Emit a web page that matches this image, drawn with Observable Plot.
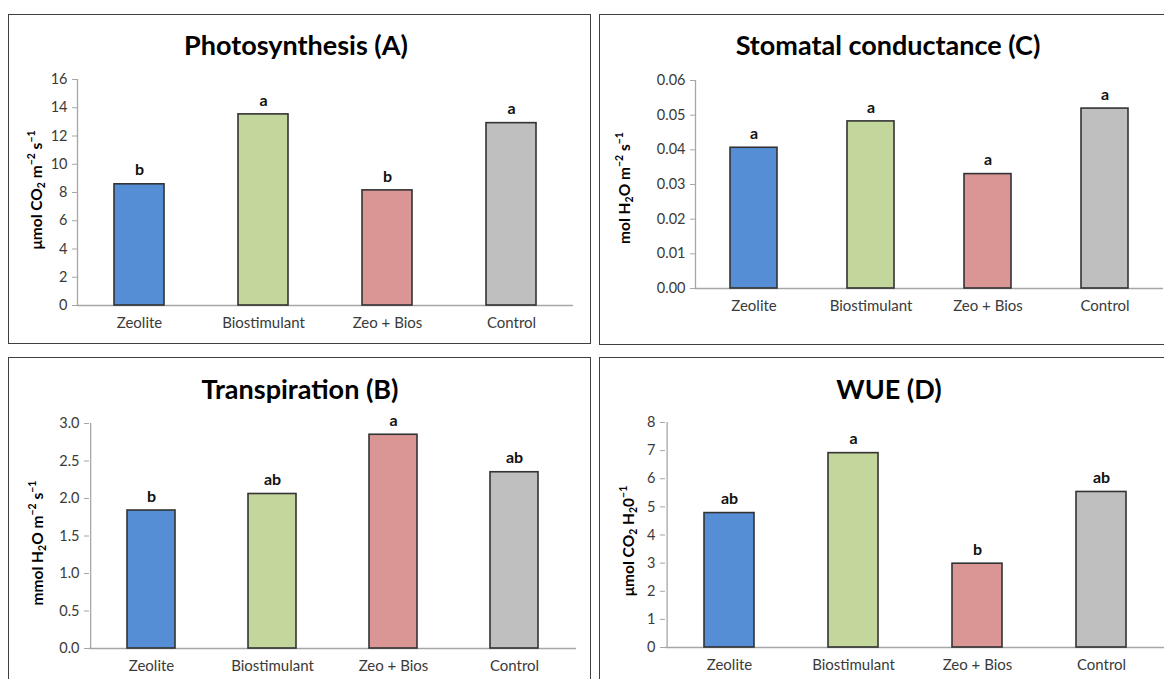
<!DOCTYPE html>
<html>
<head>
<meta charset="utf-8">
<script src="https://cdn.jsdelivr.net/npm/d3@7"></script>
<script src="https://cdn.jsdelivr.net/npm/@observablehq/plot@0.6"></script>
<style>
  html, body { margin: 0; padding: 0; background: #fff; }
  body { width: 1164px; height: 679px; position: relative; overflow: hidden; font-family: Lato, "Open Sans", sans-serif; }
  .frame { position: absolute; border: 1.5px solid #404040; box-sizing: border-box; }
  .title { position: absolute; font-weight: bold; font-size: 27px; color: #000; white-space: nowrap; transform: translate(-50%, -50%); }
  .ylabel { position: absolute; font-weight: bold; font-size: 15.5px; color: #000; white-space: nowrap; transform: translate(-50%, -50%) rotate(-90deg); }
  .ylabel sub, .ylabel sup { font-size: 10.5px; }
  .ylabel sub { vertical-align: -3px; }
  .ylabel sup { vertical-align: 7px; }
  .plot { position: absolute; }
</style>
</head>
<body>
<div id="root"></div>
<script>
// ---- data ----
const categories = ["Zeolite", "Biostimulant", "Zeo + Bios", "Control"];
const barColors = ["#558ED5", "#C3D69B", "#D99694", "#BFBFBF"];

const photosynthesis = [8.58, 13.53, 8.15, 12.91];
const photosynthesisLetters = ["b", "a", "b", "a"];
const photosynthesisTicks = [0, 2, 4, 6, 8, 10, 12, 14, 16];

const conductance = [0.0406, 0.0482, 0.0330, 0.0519];
const conductanceLetters = ["a", "a", "a", "a"];
const conductanceTicks = [0, 0.01, 0.02, 0.03, 0.04, 0.05, 0.06];

const transpiration = [1.84, 2.06, 2.85, 2.35];
const transpirationLetters = ["b", "ab", "a", "ab"];
const transpirationTicks = [0, 0.5, 1.0, 1.5, 2.0, 2.5, 3.0];

const wue = [4.78, 6.91, 2.98, 5.53];
const wueLetters = ["ab", "a", "b", "ab"];
const wueTicks = [0, 1, 2, 3, 4, 5, 6, 7, 8];

// ---- layout (page pixels) ----
const panels = [
  {
    title: "Photosynthesis (A)", titleX: 296, titleY: 44,
    ylabel: "μmol CO<sub>2</sub> m<sup>−2</sup> s<sup>−1</sup>", ylabelX: 36, ylabelY: 190,
    frame: {left: 8, top: 14, width: 583, height: 330},
    svg: {left: 8, top: 60, width: 580, height: 282, mL: 69, mR: 15, mT: 19, mB: 37},
    values: photosynthesis, letters: photosynthesisLetters, ticks: photosynthesisTicks, fmt: d3.format("d")
  },
  {
    title: "Stomatal conductance (C)", titleX: 888, titleY: 44,
    ylabel: "mol H<sub>2</sub>O m<sup>−2</sup> s<sup>−1</sup>", ylabelX: 624, ylabelY: 188,
    frame: {left: 599, top: 14, width: 590, height: 331},
    svg: {left: 599, top: 60, width: 565, height: 262, mL: 96, mR: 1, mT: 20, mB: 34},
    values: conductance, letters: conductanceLetters, ticks: conductanceTicks, fmt: d3.format(".2f")
  },
  {
    title: "Transpiration (B)", titleX: 300, titleY: 388,
    ylabel: "mmol H<sub>2</sub>O m<sup>−2</sup> s<sup>−1</sup>", ylabelX: 37, ylabelY: 543,
    frame: {left: 8, top: 357, width: 583, height: 340},
    svg: {left: 9, top: 400, width: 581, height: 279, mL: 80, mR: 14, mT: 23, mB: 31},
    values: transpiration, letters: transpirationLetters, ticks: transpirationTicks, fmt: d3.format(".1f")
  },
  {
    title: "WUE (D)", titleX: 889, titleY: 388,
    ylabel: "μmol CO<sub>2</sub> H<sub>2</sub>0<sup>−1</sup>", ylabelX: 628, ylabelY: 541,
    frame: {left: 599, top: 357, width: 590, height: 340},
    svg: {left: 599, top: 400, width: 565, height: 279, mL: 66, mR: 0, mT: 22, mB: 32},
    values: wue, letters: wueLetters, ticks: wueTicks, fmt: d3.format("d")
  }
];

const root = document.getElementById("root");

for (const p of panels) {
  const fr = document.createElement("div");
  fr.className = "frame";
  Object.assign(fr.style, {left: p.frame.left + "px", top: p.frame.top + "px", width: p.frame.width + "px", height: p.frame.height + "px"});
  root.appendChild(fr);

  const t = document.createElement("div");
  t.className = "title";
  t.textContent = p.title;
  Object.assign(t.style, {left: p.titleX + "px", top: p.titleY + "px"});
  root.appendChild(t);

  const yl = document.createElement("div");
  yl.className = "ylabel";
  yl.innerHTML = p.ylabel;
  Object.assign(yl.style, {left: p.ylabelX + "px", top: p.ylabelY + "px"});
  root.appendChild(yl);

  const data = categories.map((c, i) => ({cat: c, v: p.values[i], letter: p.letters[i], color: barColors[i]}));
  const s = p.svg;
  const ymax = p.ticks[p.ticks.length - 1];
  const step = (s.width - s.mL - s.mR) / categories.length;

  const chart = Plot.plot({
    width: s.width,
    height: s.height,
    marginLeft: s.mL,
    marginRight: s.mR,
    marginTop: s.mT,
    marginBottom: s.mB,
    style: {fontFamily: "Lato, 'Open Sans', sans-serif", fontSize: "14px", background: "transparent", color: "#404040"},
    x: {domain: categories, paddingInner: 0.6, paddingOuter: 0.3, label: null, axis: null},
    y: {domain: [0, ymax], label: null, axis: null},
    color: {type: "identity"},
    marks: [
      Plot.ruleY([0], {stroke: "#A6A6A6", strokeWidth: 1.3}),
      Plot.ruleX([categories[0]], {y1: 0, y2: ymax, dx: -step / 2, stroke: "#A6A6A6", strokeWidth: 1.3}),
      Plot.axisY({ticks: p.ticks, tickFormat: p.fmt, tickSize: 5, tickPadding: 5, stroke: "#A6A6A6", fill: "#3a3a3a", label: null, fontSize: 14.5}),
      Plot.axisX({tickSize: 0, tickPadding: 12, fill: "#3a3a3a", label: null, fontSize: 15}),
      Plot.barY(data, {x: "cat", y: "v", fill: "color", stroke: "#333", strokeWidth: 1.6}),
      Plot.text(data, {x: "cat", y: "v", text: "letter", dy: -14, fontWeight: "bold", fontSize: 16, fill: "#111"})
    ]
  });
  chart.classList.add("plot");
  Object.assign(chart.style, {left: s.left + "px", top: s.top + "px"});
  root.appendChild(chart);
}
</script>
</body>
</html>
